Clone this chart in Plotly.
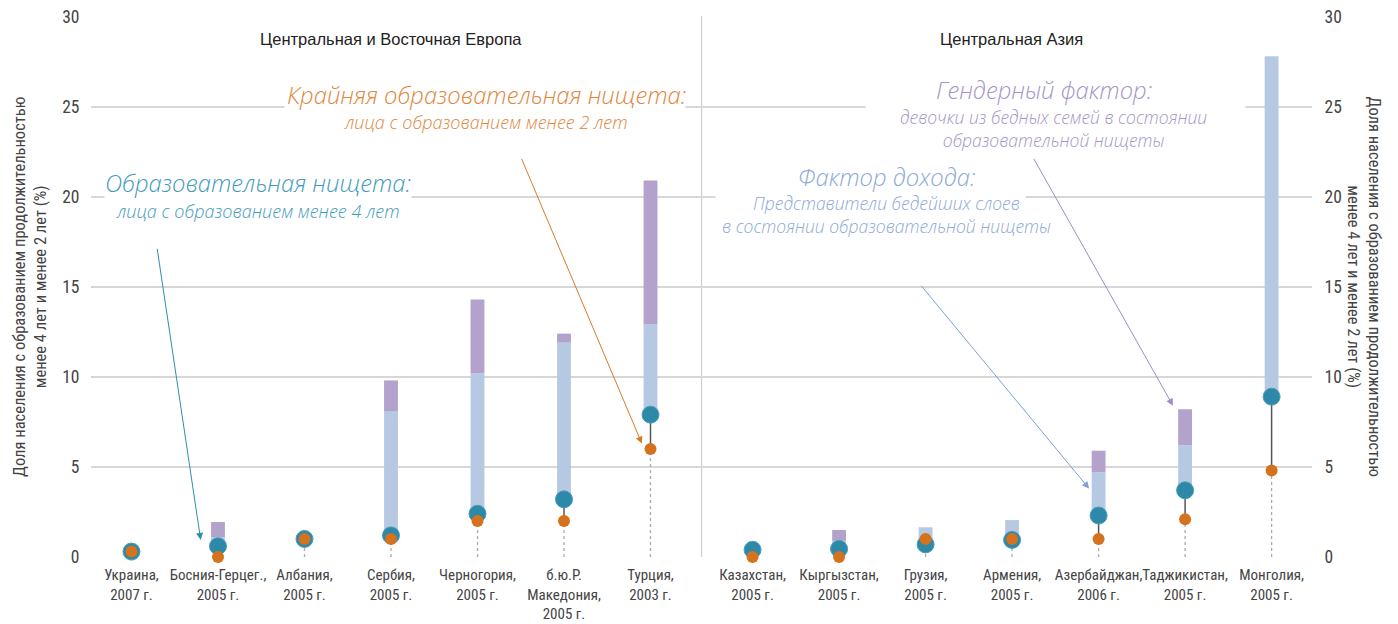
import plotly.graph_objects as go

# ---------------- data ----------------
labels = ["Украина,<br>2007 г.", "Босния-Герцег.,<br>2005 г.", "Албания,<br>2005 г.",
          "Сербия,<br>2005 г.", "Черногория,<br>2005 г.", "б.ю.Р.<br>Македония,<br>2005 г.",
          "Турция,<br>2003 г.", "Казахстан,<br>2005 г.", "Кыргызстан,<br>2005 г.",
          "Грузия,<br>2005 г.", "Армения,<br>2005 г.", "Азербайджан,<br>2006 г.",
          "Таджикистан,<br>2005 г.", "Монголия,<br>2005 г."]
group = [0, 0, 0, 0, 0, 0, 0, 1, 1, 1, 1, 1, 1, 1]
group_names = ["Центральная и Восточная Европа", "Центральная Азия"]
# education poverty (< 4 years), %
poverty4 = [0.3, 0.6, 1.0, 1.2, 2.4, 3.2, 7.9, 0.4, 0.45, 0.7, 0.95, 2.3, 3.7, 8.9]
# extreme education poverty (< 2 years), %
poverty2 = [0.3, 0.0, 1.0, 1.0, 2.0, 2.0, 6.0, 0.0, 0.0, 1.0, 1.0, 1.0, 2.1, 4.8]
# poorest quintile in education poverty, %
poorest = [None, 1.1, None, 8.1, 10.2, 11.9, 12.9, None, 0.9, 1.65, 2.05, 4.7, 6.2, 27.8]
# poor girls in education poverty, %
poor_girls = [None, 1.94, None, 9.8, 14.3, 12.4, 20.9, None, 1.5, None, None, 5.9, 8.2, None]

# ---------------- styling ----------------
TEAL = "#2e88a7"
ORANGE = "#d4721d"
LBLUE = "#b7c9e2"
PURPLE = "#b3a2cc"
GRID = "#d7d7d7"
TXT = "#444444"
CFONT = "Liberation Sans Narrow, Roboto Condensed, Roboto, sans-serif"
IFONT = "Open Sans, Lato, sans-serif"

GAP = 0.18  # extra spacing between the two regional groups
pos = [i + GAP * g for i, g in enumerate(group)]

# pixel helpers for layout (annotation placement only; page pixels)
PX0, PXU = 131.5, 86.5
PY0, PYU = 557.0, 541.0 / 30


def ax_(px):
    return (px - PX0) / PXU


def ay_(py):
    return (PY0 - py) / PYU


fig = go.Figure()

# bars: poorest (light blue) from poverty4 up, girls (purple) stacked on top
lb_x, lb_base, lb_h = [], [], []
pu_x, pu_base, pu_h = [], [], []
for p, a, b, c in zip(pos, poverty4, poorest, poor_girls):
    if b is not None:
        lb_x.append(p); lb_base.append(a); lb_h.append(b - a)
        if c is not None:
            pu_x.append(p); pu_base.append(b); pu_h.append(c - b)

fig.add_trace(go.Bar(x=lb_x, y=lb_h, base=lb_base, width=0.16,
                     marker=dict(color=LBLUE, line=dict(width=0)),
                     hoverinfo="skip", showlegend=False))
fig.add_trace(go.Bar(x=pu_x, y=pu_h, base=pu_base, width=0.16,
                     marker=dict(color=PURPLE, line=dict(width=0)),
                     hoverinfo="skip", showlegend=False))

# dotted drop lines to zero
dx, dy = [], []
for p, a, b in zip(pos, poverty4, poverty2):
    lo = min(a, b)
    if lo > 0:
        dx += [p, p, None]; dy += [0, lo, None]
fig.add_trace(go.Scatter(x=dx, y=dy, mode="lines",
                         line=dict(color="#aaaaaa", width=1.3, dash="dot"),
                         hoverinfo="skip", showlegend=False, cliponaxis=False))

# solid connectors between the two indicators
cx, cy = [], []
for p, a, b in zip(pos, poverty4, poverty2):
    cx += [p, p, None]; cy += [b, a, None]
fig.add_trace(go.Scatter(x=cx, y=cy, mode="lines",
                         line=dict(color="#555555", width=1.5),
                         hoverinfo="skip", showlegend=False, cliponaxis=False))

fig.add_trace(go.Scatter(x=pos, y=poverty4, mode="markers",
                         marker=dict(color=TEAL, size=17, line=dict(width=1, color="#4a9dbd")),
                         hoverinfo="skip", showlegend=False, cliponaxis=False))
fig.add_trace(go.Scatter(x=pos, y=poverty2, mode="markers",
                         marker=dict(color=ORANGE, size=12, line=dict(width=0)),
                         hoverinfo="skip", showlegend=False, cliponaxis=False))
# invisible trace on right axis so it is drawn
fig.add_trace(go.Scatter(x=pos, y=poverty4, yaxis="y2", mode="markers",
                         marker=dict(opacity=0), hoverinfo="skip", showlegend=False))

ann = []
# white gaps cutting gridlines behind annotation texts
for cpx, cpy, w in [(258.5, 196, 306), (485, 106, 400), (1055.5, 106, 379), (870.5, 196, 309)]:
    ann.append(dict(x=ax_(cpx), y=ay_(cpy), xref="x", yref="y", text=" ", showarrow=False,
                    width=w, height=6, bgcolor="white", borderpad=0,
                    xanchor="center", yanchor="middle", font=dict(size=4)))


def title(txt, cpx, cpy, color, size):
    ann.append(dict(x=ax_(cpx), y=ay_(cpy), xref="x", yref="y", text=txt, showarrow=False,
                    xanchor="center", yanchor="middle",
                    font=dict(family=IFONT, size=size, color=color, style="italic", weight=300)))


C_TEAL_T = "#3f9bbd"
C_OR_T = "#e0863b"
C_PU_T = "#a695c8"
C_BL_T = "#8ea9d7"
title("Образовательная нищета:", 258, 183, C_TEAL_T, 23.8)
title("лица с образованием менее 4 лет", 258, 211, C_TEAL_T, 18)
title("Крайняя образовательная нищета:", 486, 95, C_OR_T, 23.8)
title("лица с образованием менее 2 лет", 486, 122, C_OR_T, 18)
title("Гендерный фактор:", 1044, 90, C_PU_T, 23.8)
title("девочки из бедных семей в состоянии<br>образовательной нищеты", 1053, 128, C_PU_T, 17.5)
title("Фактор дохода:", 886, 177, C_BL_T, 23.8)
title("Представители бедейших слоев<br>в состоянии образовательной нищеты", 886, 214, C_BL_T, 17.5)


def arrow(x0, y0, x1, y1, color):
    ann.append(dict(x=x1, y=y1, ax=x0, ay=y0, xref="x", yref="y", axref="x", ayref="y",
                    text="", showarrow=True, arrowhead=2, arrowsize=1.4, arrowwidth=1,
                    arrowcolor=color, standoff=0))


arrow(ax_(157), ay_(247), pos[1] - 0.2, 0.95, "#2f8fae")
arrow(ax_(521), ay_(157), pos[6] - 0.10, 6.3, "#d97a2a")
arrow(ax_(1033), ay_(157), pos[12] - 0.14, 8.4, "#9f8cc8")
arrow(ax_(920), ay_(284), pos[11] - 0.11, 3.8, "#7f9fd6")

# group titles
ann.append(dict(x=ax_(391), y=ay_(38), xref="x", yref="y", text=group_names[0], showarrow=False,
                font=dict(family="Liberation Sans, Roboto, sans-serif", size=16.5, color="#222222")))
ann.append(dict(x=ax_(1011), y=ay_(38), xref="x", yref="y", text=group_names[1], showarrow=False,
                font=dict(family="Liberation Sans, Roboto, sans-serif", size=16.5, color="#222222")))

# axis titles
ytitle = "Доля населения с образованием продолжительностью<br>менее 4 лет и менее 2 лет (%)"
ann.append(dict(x=-0.0504, y=0.5, xref="paper", yref="paper", text=ytitle, showarrow=False,
                textangle=-90, xanchor="center", yanchor="middle",
                font=dict(family=CFONT, size=16.5, color=TXT)))
ann.append(dict(x=1.0434, y=0.5, xref="paper", yref="paper", text=ytitle, showarrow=False,
                textangle=90, xanchor="center", yanchor="middle",
                font=dict(family=CFONT, size=16.5, color=TXT)))

# page body has an 8px margin: figure is shifted accordingly
fig.update_layout(
    width=1390, height=616,
    margin=dict(l=83, r=86, t=8, b=67),
    paper_bgcolor="white", plot_bgcolor="white",
    barmode="overlay", showlegend=False,
    xaxis=dict(range=[-0.468, 13.647], tickvals=pos, ticktext=labels, showgrid=False,
               zeroline=False, showline=False, ticks="outside", ticklen=4, tickangle=0,
               automargin=False,
               tickcolor="rgba(0,0,0,0)", tickfont=dict(family=CFONT, size=15, color=TXT)),
    yaxis=dict(range=[0, 30.03], tickvals=[0, 5, 10, 15, 20, 25, 30], showgrid=True,
               gridcolor=GRID, gridwidth=1.5, ticklabeloverflow="allow",
               zeroline=False, showline=False, ticks="outside", ticklen=7, automargin=False,
               tickcolor="rgba(0,0,0,0)", tickfont=dict(family=CFONT, size=17.5, color=TXT)),
    yaxis2=dict(range=[0, 30.03], tickvals=[0, 5, 10, 15, 20, 25, 30], overlaying="y", side="right",
                showgrid=False, ticklabeloverflow="allow",
                zeroline=False, showline=False, ticks="outside", ticklen=8, automargin=False,
                tickcolor="rgba(0,0,0,0)", tickfont=dict(family=CFONT, size=17.5, color=TXT)),
    shapes=[dict(type="line", xref="x", yref="paper", x0=(pos[6] + pos[7]) / 2, x1=(pos[6] + pos[7]) / 2,
                 y0=0, y1=1, line=dict(color="#cfcfcf", width=1.2), layer="below")],
    annotations=ann,
)

fig.write_html("out.html")
